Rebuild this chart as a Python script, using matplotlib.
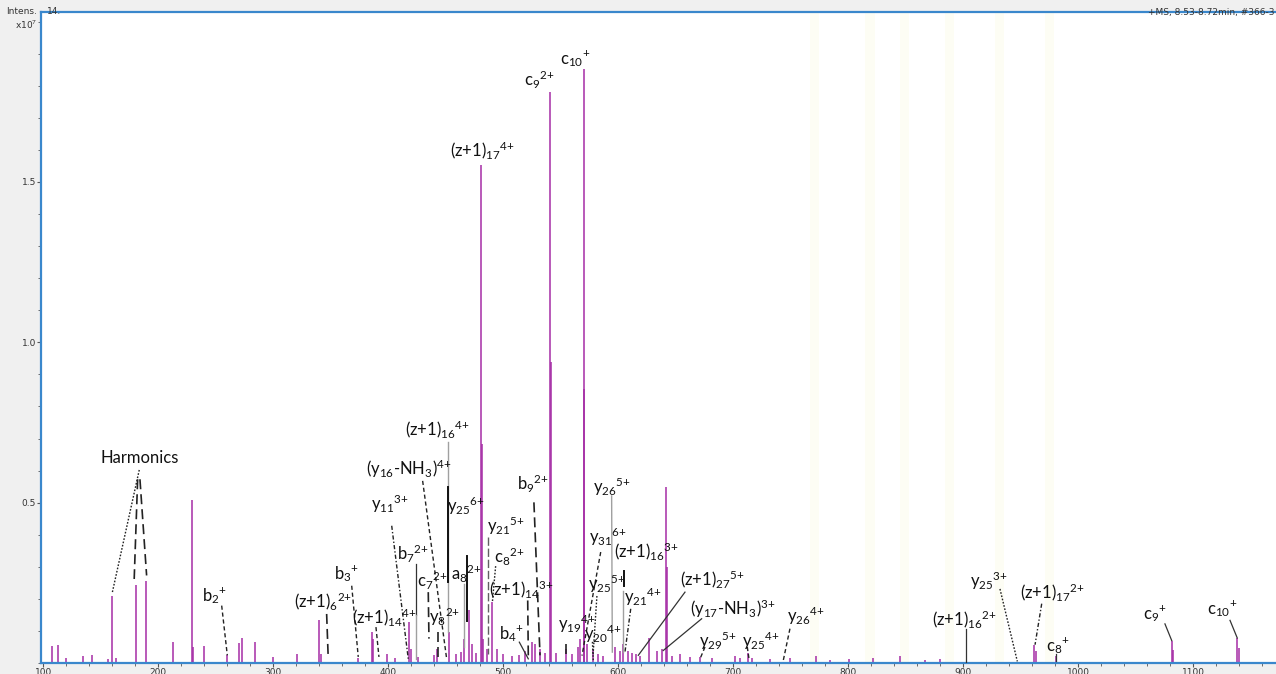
import matplotlib
matplotlib.use('Agg')
import matplotlib.pyplot as plt
from matplotlib.ticker import MultipleLocator, FixedLocator

plt.rcParams['font.family'] = ['Lato', 'DejaVu Sans']
plt.rcParams['mathtext.fontset'] = 'custom'
plt.rcParams['mathtext.rm'] = 'Lato'
plt.rcParams['mathtext.it'] = 'Lato:italic'
plt.rcParams['mathtext.bf'] = 'Lato:bold'

# peaks: m/z and intensity (x10^7)
peak_mz = [107.7, 112.9, 119.6, 134.7, 142.0, 156.2, 159.9, 163.1, 180.3, 189.5,
           213.0, 228.9, 230.4, 240.0, 260.0, 270.1, 272.7, 284.0, 299.4, 320.6,
           340.0, 341.5, 373.9, 385.6, 387.0, 398.6, 405.8, 418.3, 419.7, 425.8,
           440.0, 442.8, 452.8, 458.9, 463.0, 465.9, 470.5, 472.8, 476.3, 481.1,
           481.6, 482.6, 485.9, 490.5, 494.6, 499.8, 507.6, 514.0, 518.9, 525.0,
           527.6, 532.0, 536.3, 540.8, 541.2, 545.9, 554.6, 559.8, 565.0, 567.2,
           570.0, 570.4, 572.9, 577.8, 582.4, 586.8, 597.2, 601.6, 604.6, 608.5,
           612.0, 615.5, 619.0, 627.0, 633.7, 638.1, 641.6, 642.1, 646.8, 653.7,
           662.4, 671.1, 681.5, 701.6, 705.9, 712.9, 716.3, 732.0, 749.4, 772.1,
           784.0, 800.8, 821.7, 845.1, 866.9, 880.0, 961.7, 963.4, 980.8, 1081.5,
           1083.0, 1138.5, 1140.0]
peak_int = [0.053, 0.055, 0.016, 0.023, 0.024, 0.013, 0.208, 0.016, 0.244, 0.256,
            0.064, 0.509, 0.051, 0.053, 0.024, 0.062, 0.079, 0.067, 0.020, 0.027,
            0.135, 0.029, 0.016, 0.096, 0.076, 0.027, 0.016, 0.128, 0.045, 0.020,
            0.024, 0.045, 0.096, 0.029, 0.035, 0.076, 0.164, 0.060, 0.030, 1.553,
            0.682, 0.076, 0.045, 0.190, 0.045, 0.029, 0.023, 0.024, 0.038, 0.066,
            0.060, 0.045, 0.030, 1.780, 0.940, 0.030, 0.045, 0.028, 0.051, 0.076,
            1.851, 0.853, 0.060, 0.045, 0.028, 0.022, 0.051, 0.038, 0.060, 0.038,
            0.032, 0.029, 0.022, 0.078, 0.038, 0.045, 0.550, 0.300, 0.022, 0.028,
            0.020, 0.020, 0.016, 0.023, 0.016, 0.032, 0.016, 0.012, 0.016, 0.023,
            0.010, 0.014, 0.016, 0.023, 0.010, 0.012, 0.055, 0.038, 0.022, 0.070,
            0.041, 0.078, 0.048]


def ion(base, sub='', sup=''):
    s = r'\text{%s}' % base
    if sub:
        s += r'_{\text{%s}}' % sub
    if sup:
        s += r'{}^{\text{%s}}' % sup
    return '$' + s + '$'


def nh3(n, sup):
    return (r'$\text{(y}_{\text{%s}}\text{-NH}_{\text{3}}\text{)}^{\text{%s}}$'
            % (n, sup))


# fragment labels and where they sit (m/z, intensity)
label_text = ['Harmonics', ion('b', '2', '+'), ion('(z+1)', '6', '2+'),
              ion('b', '3', '+'), ion('(z+1)', '14', '4+'), ion('y', '11', '3+'),
              ion('(z+1)', '16', '4+'), ion('y', '25', '6+'), nh3('16', '4+'),
              ion('b', '7', '2+'), ion('c', '7', '2+'), ion('y', '8', '2+'),
              ion('a', '8', '2+'), ion('(z+1)', '17', '4+'), ion('c', '9', '2+'),
              ion('c', '10', '+'), ion('y', '21', '5+'), ion('c', '8', '2+'),
              ion('(z+1)', '14', '3+'), ion('b', '9', '2+'), ion('b', '4', '+'),
              ion('y', '19', '4+'), ion('y', '20', '4+'), ion('y', '25', '5+'),
              ion('y', '31', '6+'), ion('(z+1)', '16', '3+'), ion('y', '21', '4+'),
              ion('y', '26', '5+'), ion('(z+1)', '27', '5+'), nh3('17', '3+'),
              ion('y', '29', '5+'), ion('y', '25', '4+'), ion('y', '26', '4+'),
              ion('(z+1)', '16', '2+'), ion('y', '25', '3+'), ion('(z+1)', '17', '2+'),
              ion('c', '8', '+'), ion('c', '9', '+'), ion('c', '10', '+')]
label_mz = [184.0, 249.3, 343.2, 363.8, 396.3, 401.5, 442.7, 467.6, 417.5, 421.4,
            438.4, 448.9, 468.0, 482.3, 531.1, 562.8, 502.4, 504.9, 516.0, 525.9,
            507.3, 564.1, 586.7, 590.6, 591.3, 624.8, 621.8, 594.3, 681.6, 699.9,
            687.1, 724.2, 763.4, 900.8, 922.5, 977.8, 982.6, 1066.9, 1125.0]
label_int = [0.639, 0.209, 0.194, 0.278, 0.144, 0.496, 0.729, 0.490, 0.605, 0.340,
             0.257, 0.144, 0.278, 1.600, 1.818, 1.886, 0.428, 0.330, 0.231, 0.558,
             0.091, 0.122, 0.091, 0.247, 0.393, 0.350, 0.205, 0.548, 0.262, 0.169,
             0.070, 0.070, 0.148, 0.138, 0.257, 0.221, 0.055, 0.153, 0.169]

# leader lines: (mz1, int1, mz2, int2, kind)
leaders = [(183.4, 0.602, 159.9, 0.219, 'dot'), (182.0, 0.573, 179.0, 0.262, 'long'),
           (184.0, 0.573, 189.8, 0.273, 'long'), (255.1, 0.179, 260.0, 0.024, 'dash'),
           (346.4, 0.153, 347.8, 0.013, 'long'), (368.2, 0.241, 373.9, 0.019, 'dash'),
           (389.3, 0.112, 391.9, 0.019, 'dash'), (403.0, 0.428, 417.4, 0.013, 'dashdot'),
           (452.2, 0.689, 452.2, 0.097, 'grey'), (452.2, 0.549, 452.2, 0.253, 'black'),
           (429.9, 0.568, 450.8, 0.013, 'dash'), (424.1, 0.309, 424.1, 0.150, 'solid'),
           (424.1, 0.150, 424.1, 0.013, 'grey'), (434.8, 0.221, 435.4, 0.076, 'long'),
           (443.5, 0.096, 443.5, 0.013, 'long'), (468.7, 0.334, 468.7, 0.132, 'black'),
           (465.9, 0.247, 465.9, 0.051, 'grey'), (487.0, 0.393, 487.0, 0.029, 'greylong'),
           (493.4, 0.302, 490.6, 0.191, 'dot'), (521.3, 0.195, 521.8, 0.024, 'long'),
           (526.7, 0.501, 532.0, 0.024, 'long'), (514.0, 0.065, 521.8, 0.013, 'solid'),
           (554.6, 0.060, 554.6, 0.013, 'long'), (577.6, 0.066, 578.3, 0.008, 'dot'),
           (581.5, 0.209, 578.1, 0.023, 'dot'), (584.8, 0.346, 568.5, 0.023, 'dash'),
           (605.3, 0.287, 605.3, 0.240, 'black'), (604.4, 0.225, 604.4, 0.035, 'grey'),
           (610.9, 0.169, 605.9, 0.034, 'dashdot'), (594.3, 0.521, 594.9, 0.034, 'grey'),
           (658.1, 0.221, 617.5, 0.024, 'solid'), (672.6, 0.138, 639.2, 0.039, 'solid'),
           (675.5, 0.050, 671.2, 0.013, 'dash'), (712.3, 0.050, 714.0, 0.008, 'dash'),
           (749.4, 0.107, 743.6, 0.008, 'dash'), (902.5, 0.105, 902.5, 0.003, 'solid'),
           (932.1, 0.231, 947.2, 0.005, 'dot'), (968.4, 0.185, 962.6, 0.057, 'dashdot'),
           (980.8, 0.029, 980.8, 0.005, 'solid'), (1075.6, 0.122, 1081.5, 0.070, 'solid'),
           (1132.2, 0.133, 1138.5, 0.078, 'solid')]

# faint background stripes of the original export
faint_bands = [771, 819, 849, 888, 932, 975]

line_kinds = {
    'dot': dict(color='#222222', ls=(0, (1.2, 1.2)), lw=1.0),
    'dash': dict(color='#222222', ls=(0, (3, 2)), lw=1.0),
    'long': dict(color='#222222', ls=(0, (6, 3)), lw=1.2),
    'dashdot': dict(color='#222222', ls=(0, (3, 1.5, 1, 1.5)), lw=1.0),
    'solid': dict(color='#333333', ls='-', lw=0.9),
    'black': dict(color='#111111', ls='-', lw=1.4),
    'grey': dict(color='#a0a0a0', ls='-', lw=1.0),
    'greylong': dict(color='#606060', ls=(0, (6, 2)), lw=1.0),
}

fig = plt.figure(figsize=(12.76, 6.74), dpi=100, facecolor='#f0f0f0')
ax = fig.add_axes([0.0321, 0.0163, 0.9679, 0.9659])
ax.set_facecolor('white')

for b in faint_bands:
    ax.axvspan(b - 4, b + 4, color='#fdfdf4', lw=0, zorder=0)

ax.vlines(peak_mz, 0, peak_int, color='#a52ca5', lw=1.1, zorder=2)

for x1, y1, x2, y2, kind in leaders:
    ax.plot([x1, x2], [y1, y2], zorder=3, **line_kinds[kind])

for t, x, y in zip(label_text, label_mz, label_int):
    ax.text(x, y, t, fontsize=12, ha='center', va='center', color='#111111', zorder=4)

ax.set_xlim(97.9, 1172.2)
ax.set_ylim(0, 2.03)

ax.xaxis.set_major_locator(MultipleLocator(100))
ax.xaxis.set_minor_locator(MultipleLocator(20))
ax.yaxis.set_major_locator(FixedLocator([0.5, 1.0, 1.5]))
ax.yaxis.set_minor_locator(MultipleLocator(0.1))
ax.tick_params(which='both', direction='out', colors='#555555', labelcolor='#333333',
               labelsize=6.5, pad=0.5)
ax.tick_params(which='major', length=3)
ax.tick_params(which='minor', length=2)
for lab in ax.get_xticklabels() + ax.get_yticklabels():
    lab.set_fontfamily('DejaVu Sans')

for side in ['left', 'top', 'bottom']:
    ax.spines[side].set_color('#3a87cc')
    ax.spines[side].set_linewidth(1.6)
ax.spines['right'].set_visible(False)

fig.text(0.029, 0.99, 'Intens.', ha='right', va='top', fontsize=6.5,
         fontfamily='DejaVu Sans', color='#333333')
fig.text(0.029, 0.972, r'x10$^7$', ha='right', va='top', fontsize=6.5,
         fontfamily='DejaVu Sans', color='#333333')
fig.text(0.0365, 0.99, '14.', ha='left', va='top', fontsize=6.5,
         fontfamily='DejaVu Sans', color='#333333')
fig.text(0.999, 0.981, '+MS, 8.53-8.72min, #366-3', ha='right', va='center',
         fontsize=6.5, fontfamily='DejaVu Sans', color='#333333')

fig.savefig('out.png', dpi=100, facecolor=fig.get_facecolor())
